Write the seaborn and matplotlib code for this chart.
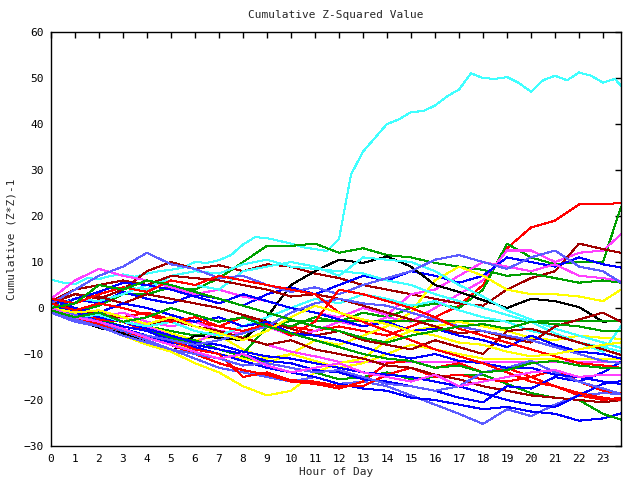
import matplotlib
matplotlib.use("Agg")
import matplotlib.pyplot as plt
import pandas as pd
import seaborn as sns

# ---------------- data ----------------
hours = list(range(24)) + [23.75]
half_hours = [h / 2 for h in range(48)] + [23.75]

cyan_star = [6.2, 5.5, 5.2, 6.5, 6.3, 7.0, 7.3, 6.8, 7.5, 8.0, 8.3, 8.8, 10.0, 9.8, 10.4, 11.5,
             13.8, 15.4, 15.2, 14.6, 14.0, 13.2, 12.8, 12.4, 15.0, 29.0, 34.0, 37.0, 40.0, 41.0,
             42.6, 42.8, 44.0, 46.0, 47.5, 51.0, 50.0, 49.8, 50.2, 48.9, 47.0, 49.5, 50.5, 49.5,
             51.2, 50.5, 49.0, 49.8, 48.3]

red_top = [1, 0, -1, -2, -1, -2.5, -3, -4, -2, -3.5, -4, -5, -4, -5, -6, -4, -2, 0.5, 5, 13, 17.5, 19, 22.5, 22.6, 22.8]
green_jump = [-0.5, -2, -3, -2, -4, -5, -6, -5, -6.5, -3, -4, -2, -3, -1, -2, 0, 1, 0, 4, 14, 11, 9.5, 10, 10, 22]
magenta_top = [0.5, -1, -2, -1, -3, -4, -3, -5, -5.5, -4, -6, -5, -3, -4, -2, -3, 0, 3, 6, 12.5, 12.5, 10, 12, 12.5, 16]
darkred_top = [1.5, 3, 2, 4, 8, 10, 8.5, 9.3, 8, 9.5, 9, 7.5, 6.5, 5, 4, 3, 2, 1, 0.5, 4, 6.5, 8, 14, 12.8, 12]
green_high = [0, -1, 0.5, 3, 3, 4.5, 4, 6.5, 10, 13.5, 13.5, 14, 12, 13, 11.5, 11, 9.8, 9, 8.3, 7, 7.5, 6.5, 5.5, 6, 5.5]
blue_top = [0.5, 2, 1, 3.5, 2, 1, 3, 2, 0.5, 3, 4.5, 3, 5, 7, 6, 8, 7, 5.5, 7, 11, 10, 9, 11, 9.5, 8.8]
magenta_high = [2, 6, 8.5, 7, 6, 4.5, 3, 4, 2.5, 1.5, 0, -1, -2, 0, -1.5, 3, 4, 7, 10, 9, 8, 9.5, 7, 6.5, 5.9]
yellow_high = [-0.5, -2, -1, -3, -4, -5.5, -7, -6, -9, -11, -10, -7, -8, -6, -4, -1, 6, 9, 7, 4, 3, 3, 2.5, 1.5, 4]
black_1 = [0, -2.5, -4.3, -5.5, -7, -9.5, -6, -6.5, -7, -2, 5, 8, 10.5, 9.8, 11.2, 9, 5, 3.5, 1.7, 0, 2, 1.5, 0.2, -3, -2.6]
green_flat = [0, -1.5, -3, -4, -5, -6.5, -8, -9, -10, -4, -2.8, -2.8, -2.8, -2.8, -2.8, -2.8, -2.8, -2.8, -2.8, -2.8, -2.8, -2.8, -2.8, -2.8, -2.8]
magenta_flat = [0, -2, -3.5, -2, -4, -6, -7.5, -5, -6.5, -8, -9.5, -10.5, -11.7, -11.7, -11.7, -11.7, -11.7, -11.7, -11.7, -11.7, -11.7, -11.7, -11.7, -11.7, -11.7]
yellow_flat = [-0.5, -2, -4, -5, -6.5, -8, -9, -10, -11, -12, -10, -11.5, -13, -12, -10, -8, -9, -10, -11, -11.1, -11.1, -11.1, -11.1, -11.1, -11.1]
yellow_low = [-0.5, -2.5, -4, -6, -8, -9.5, -12, -14, -17, -19, -18, -14, -12, -11, -7, -5, -4, -3, -4, -5, -6.5, -7, -6, -6.5, -6.7]
lightblue_low = [-1, -3, -4, -5, -7, -9, -11, -13, -14, -15, -16, -15, -16.5, -16, -17, -19, -21, -23, -25.2, -22, -23.5, -21, -19, -18.5, -18.7]
blue_low = [0, -1.5, -3, -4.5, -6, -7.5, -8.5, -10, -11.5, -13, -14, -15, -16.5, -17.5, -18, -19.5, -20, -21, -22, -21.5, -22.5, -23, -24.5, -24, -22.9]
green_low = [0, -2, -2.5, -4, -5, -6.5, -7, -9, -10.5, -12, -13, -14, -15.5, -15, -14, -15.5, -15, -14.5, -14.5, -16.5, -18.5, -19.5, -20, -23, -24.3]
red_low = [0.5, -1, -2.5, -3, -5, -7, -9, -10, -15, -14, -15.7, -16, -17, -17, -14.5, -13, -15, -14.5, -15.5, -16, -15, -13.5, -16, -18, -18.5]
red_low2 = [-0.5, -2, -3.5, -5, -6.5, -8, -10, -12, -13.5, -14.5, -16, -16.5, -17.5, -16, -12, -11.5, -13, -12, -14, -13, -15, -17, -19, -20, -19.5]
darkred_low = [1, 0, -1.5, -2, -3.5, -2.5, -4, -5, -6.5, -8, -7, -9, -10, -11, -12.5, -13, -14.5, -15.5, -17, -18, -19, -19.5, -20, -20.5, -20]
blue_end16 = [1, -0.5, -2, -3, -4.5, -6, -7.5, -8, -9.5, -10.5, -11, -12, -13, -14, -14.5, -15, -16, -17, -18.5, -20, -21, -21.5, -19, -16.5, -15.9]
blue_rise = [0.5, -1, -3, -4, -5, -7, -8, -9, -10, -11.5, -12, -13.5, -14, -15.5, -16, -17, -18, -19.5, -20.5, -17, -17.5, -15, -16, -14, -11.7]
lightblue_mid = [-1, -2.5, -4, -6, -7.5, -9, -10, -11, -12.5, -12, -13, -14, -13.5, -15, -16.5, -17, -18, -17, -14, -13, -11.5, -14, -16, -17.5, -18.7]
cyan_down = [0, 2, 1.5, 3, 5, 6, 5, 4, 8, 9, 10, 9, 7, 11, 10.5, 10, 8, 5, 2.5, -0.5, -2.5, -4.5, -6, -7.5, -8.7]
cyan_2 = [0.5, 1, 3, 4.5, 4, 7, 8, 7.5, 9.5, 10.5, 9, 8.5, 8, 7.5, 6, 5, 3, 1.5, 0, -1.5, -3, -5.5, -7.5, -9.5, -4]
cyan_3 = [-0.5, -2, -1.5, -3, -4, -3, -5, -6, -4, -2, 0, 2, 1, 3, 2, 0.5, 1.5, -0.5, -2, -3, -5, -6, -7.5, -8.5, -9.5]
darkred_mid = [1, 3, 2.5, 1, 3, 2, 1, 0, -1.5, -3, -4.5, -6, -5, -7, -8, -9, -7, -8.5, -10, -5, -4.5, -6, -7.5, -9, -10.2]
darkred_mid2 = [1.5, 4, 5, 6, 5, 7, 6.5, 6, 5, 4, 2.5, 3, 2, 0.5, -1, -2.5, -4, -5.5, -5, -6.5, -7.5, -4, -2.5, -1, -3]
blue_mid = [2, 0, -1, 1, 0, -1.5, -3, -2, -4, -3, -5.5, -6, -7, -8.5, -10, -11, -10, -11.5, -12, -13, -13, -14.5, -15, -16, -16.5]
blue_high = [-0.5, 2, 3.5, 5.5, 5, 4, 2.5, 1, 3, 1.5, 0, -1, -2.5, -4, -3, -5, -4.5, -6, -7, -8.5, -6, -8, -9.5, -10, -11]
lightblue_high = [1, 4, 7, 9, 12, 9.5, 8.5, 6.5, 7, 5, 3.5, 4.5, 3, 5, 6.5, 8, 10.5, 11.5, 10, 8.5, 11, 12.5, 9, 8, 5.5]
lightblue_mid2 = [0, -1.5, -3, -5, -6, -7, -8, -7, -5.5, -4, -1, 1, 2, 1, 0.5, -1, -2.5, -4, -5, -6, -7, -8.5, -10, -11.5, -12]
red_mid = [1, -0.5, 1, 0, -1.5, -3, -2, -4, -5, -3.5, -6, -3, 4, 3, 1.5, 0, -2, -4.5, -6, -7.5, -9, -10.5, -12, -12.5, -13]
red_high = [2, 1, 3, 4.5, 3.5, 6, 5, 7, 6, 5, 4, 3, -1, -3, -5, -7, -9, -10.5, -12, -14, -16, -17, -18.5, -19.5, -20]
yellow_mid = [0, -1, -0.5, -2, -3.5, -2, -4, -5.5, -7, -5, -2, 0.5, -1, -2.5, -3.5, -5, -6, -7.5, -8, -9.5, -10.5, -10, -9, -8, -7.5]
magenta_low = [0, -2, -3, -4.5, -6.5, -8, -9.5, -11, -10, -12.5, -14, -13, -12, -14, -15, -16, -14.5, -17, -16, -15, -14, -13.5, -15, -14.5, -14.5]
green_mid = [-0.5, -2, -1, -3, -2, 0, -1.5, -3, -2, -4, -5.5, -7, -8.5, -10, -11, -11.5, -13, -12.5, -14, -13.5, -12, -11.5, -12.5, -13, -13]
green_early = [0, 1, 5, 4, 6, 5, 3.5, 2, 0.5, -1, -2.5, -4, -5, -6.5, -7.5, -6, -5, -4, -3.5, -4.5, -3, -3.5, -4, -5, -5]

RED, GREEN, BLUE, MAG = "#ff0000", "#00a000", "#0000ff", "#ff40ff"
CYAN, DRED, YEL, BLK, LBLUE = "#40ffff", "#a00000", "#ffff00", "#000000", "#5c5cff"

series = [
    ("cyan_star", CYAN, half_hours, cyan_star),
    ("red_top", RED, hours, red_top), ("green_jump", GREEN, hours, green_jump),
    ("magenta_top", MAG, hours, magenta_top), ("darkred_top", DRED, hours, darkred_top),
    ("green_high", GREEN, hours, green_high), ("blue_top", BLUE, hours, blue_top),
    ("magenta_high", MAG, hours, magenta_high), ("yellow_high", YEL, hours, yellow_high),
    ("black_1", BLK, hours, black_1), ("green_flat", GREEN, hours, green_flat),
    ("magenta_flat", MAG, hours, magenta_flat), ("yellow_flat", YEL, hours, yellow_flat),
    ("yellow_low", YEL, hours, yellow_low), ("lightblue_low", LBLUE, hours, lightblue_low),
    ("blue_low", BLUE, hours, blue_low), ("green_low", GREEN, hours, green_low),
    ("red_low", RED, hours, red_low), ("red_low2", RED, hours, red_low2),
    ("darkred_low", DRED, hours, darkred_low), ("blue_end16", BLUE, hours, blue_end16),
    ("blue_rise", BLUE, hours, blue_rise), ("lightblue_mid", LBLUE, hours, lightblue_mid),
    ("cyan_down", CYAN, hours, cyan_down), ("cyan_2", CYAN, hours, cyan_2),
    ("cyan_3", CYAN, hours, cyan_3), ("darkred_mid", DRED, hours, darkred_mid),
    ("darkred_mid2", DRED, hours, darkred_mid2), ("blue_mid", BLUE, hours, blue_mid),
    ("blue_high", BLUE, hours, blue_high), ("lightblue_high", LBLUE, hours, lightblue_high),
    ("lightblue_mid2", LBLUE, hours, lightblue_mid2), ("red_mid", RED, hours, red_mid),
    ("red_high", RED, hours, red_high), ("yellow_mid", YEL, hours, yellow_mid),
    ("magenta_low", MAG, hours, magenta_low), ("green_mid", GREEN, hours, green_mid),
    ("green_early", GREEN, hours, green_early),
]

rows = []
for name, col, xs, ys in series:
    for x, y in zip(xs, ys):
        rows.append({"series": name, "hour": x, "value": y})
df = pd.DataFrame(rows)
palette = {name: col for name, col, _, _ in series}

# ---------------- plot ----------------
sns.set_style("white")
plt.rcParams["font.family"] = ["DejaVu Sans Mono"]
plt.rcParams["lines.antialiased"] = False

fig = plt.figure(figsize=(6.4, 4.8), dpi=100)
ax = fig.add_axes([51 / 640, 34 / 480, 570 / 640, 414 / 480])

sns.lineplot(data=df, x="hour", y="value", hue="series", palette=palette,
             estimator=None, sort=False, legend=False, linewidth=0.75, ax=ax)

ax.set_xlim(0, 23.75)
ax.set_ylim(-30, 60)
ax.set_xticks(list(range(24)))
ax.set_yticks(list(range(-30, 61, 10)))
ax.tick_params(direction="in", length=4.5, width=1, top=True, right=True,
               labelsize=8, colors="black")
ax.tick_params(axis="x", pad=6)
ax.tick_params(axis="y", pad=5)
for sp in ax.spines.values():
    sp.set_visible(True)
    sp.set_color("black")
    sp.set_linewidth(1.0)

ax.set_xlabel("Hour of Day", fontsize=8, labelpad=2)
ax.set_ylabel("Cumulative (Z*Z)-1", fontsize=8, labelpad=5)
ax.set_title("Cumulative Z-Squared Value", fontsize=8, pad=10)

fig.savefig("out.png", dpi=100)
